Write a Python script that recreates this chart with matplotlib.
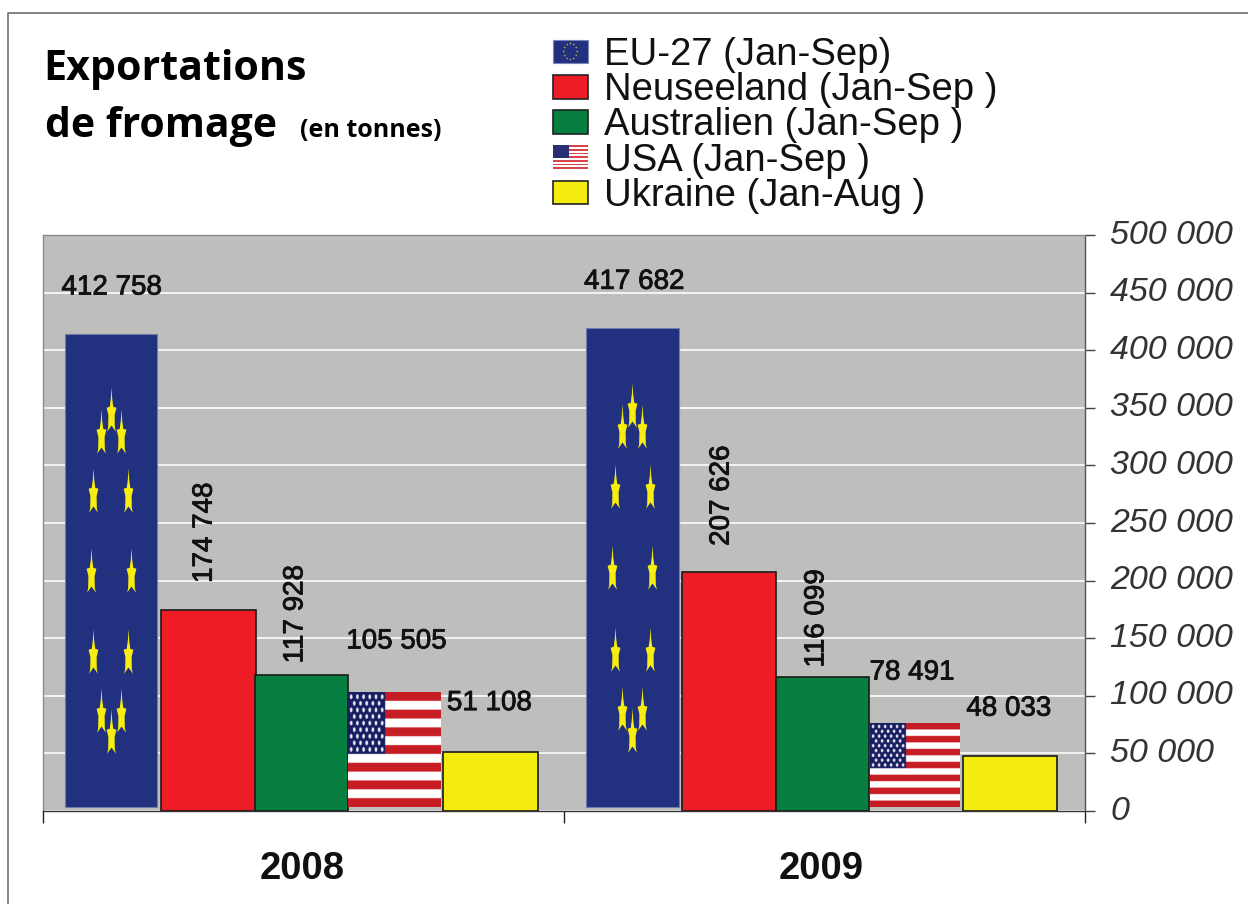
import numpy as np
import matplotlib
matplotlib.use("Agg")
import matplotlib.pyplot as plt
import matplotlib.patheffects as pe
from matplotlib.lines import Line2D
from matplotlib.patches import Rectangle, Circle
from matplotlib.path import Path
from matplotlib.legend_handler import HandlerBase

# ---- data ----
years = ["2008", "2009"]
series = ["EU-27 (Jan-Sep)", "Neuseeland (Jan-Sep )", "Australien (Jan-Sep )",
          "USA (Jan-Sep )", "Ukraine (Jan-Aug )"]
eu27 = [412758, 417682]
neuseeland = [174748, 207626]
australien = [117928, 116099]
usa = [105505, 78491]
ukraine = [51108, 48033]
values = [eu27, neuseeland, australien, usa, ukraine]
yticks = list(range(0, 500001, 50000))

# ---- style / layout ----
W, H = 1248, 907
DPI = 100
AX_L, AX_R, AX_T, AX_B = 43, 1085, 235, 811
BG = "#BEBEBC"
NAVY, RED, GREEN, YELLOW = "#21307F", "#EE1C25", "#067F40", "#F5EC0F"
colors = [NAVY, RED, GREEN, None, YELLOW]
offsets = [[-0.370, -0.182, -0.004, 0.173, 0.359], [-0.369, -0.184, -0.004, 0.172, 0.356]]
widths = [[0.177, 0.182, 0.177, 0.177, 0.184], [0.178, 0.180, 0.180, 0.171, 0.182]]
FLAG_INSET = 3500
EU_TOP_EXTRA = 1700
USA_TOP_TRIM = 2500
# label offset from the bar's top centre, pixels (dx, dy up)
label_off = [
    [(1, 48), (-4, 77), (-6, 61), (3, 48), (-1, 49)],
    [(2, 48), (-7, 76), (-6, 59), (-2, 48), (-1, 47)],
]
label_rot = [0, 90, 90, 0, 0]
year_pos = [0.497, 1.494]
SANS = ["Liberation Sans", "DejaVu Sans"]
BOLD = ["Open Sans", "DejaVu Sans"]


def us_flag():
    h, w = 390, 455
    img = np.ones((h, w, 3))
    red = np.array([0.78, 0.11, 0.14])
    for s in range(0, 13, 2):
        img[s * h // 13:(s + 1) * h // 13] = red
    ch, cw = 7 * h // 13, 2 * w // 5
    img[:ch, :cw] = [0.10, 0.12, 0.38]
    yy, xx = np.mgrid[0:h, 0:w]
    for row in range(9):
        cols = 6 if row % 2 == 0 else 5
        for c in range(cols):
            cx = (c + (0.5 if row % 2 == 0 else 1.0)) * cw / 6
            cy = (row + 0.7) * ch / 9.4
            mask = ((xx - cx) / 6.5) ** 2 + ((yy - cy) / 8) ** 2 < 1
            img[mask] = [0.93, 0.93, 0.97]
    return img


STAR = Path(np.array([[0, 1.0], [0.03, 0.5], [0.08, 0.12], [0.22, 0.08], [0.14, -0.25], [0.15, -0.8],
                      [0.2, -1.0], [0, -0.72], [-0.2, -1.0], [-0.15, -0.8], [-0.14, -0.25],
                      [-0.22, 0.08], [-0.08, 0.12], [-0.03, 0.5], [0, 1.0]]))
FLAG = us_flag()

fig = plt.figure(figsize=(W / DPI, H / DPI), dpi=DPI, facecolor="white")
ax = fig.add_axes([AX_L / W, 1 - AX_B / H, (AX_R - AX_L) / W, (AX_B - AX_T) / H])
ax.set_facecolor(BG)
ax.set_axisbelow(True)
ax.yaxis.grid(True, color="#F4F4F2", lw=1.4)
ax.xaxis.grid(False)

px_per_x = (AX_R - AX_L) / 2

for g, year in enumerate(years):
    for s, vals in enumerate(values):
        v = vals[g]
        x = g + 0.5 + offsets[g][s]
        wd = widths[g][s]
        if s == 0:
            top = v + EU_TOP_EXTRA
            ax.bar(x, top - FLAG_INSET, wd, bottom=FLAG_INSET, color=NAVY, ec="#6F7AA8", lw=0.8, zorder=3)
            for k in range(12):
                a = np.pi * k / 6
                sx = x + 20 / px_per_x * np.sin(a)
                sy = FLAG_INSET + (top - FLAG_INSET) * (0.5 + 0.34 * np.cos(a))
                ax.plot([sx], [sy], marker=STAR, ms=32, mfc="#F7EE10", mec="none", zorder=4)
        elif s == 3:
            ax.imshow(FLAG, extent=(x - wd / 2, x + wd / 2, FLAG_INSET, v - USA_TOP_TRIM), aspect="auto",
                      interpolation="bilinear", zorder=3)
        else:
            ax.bar(x, v, wd, color=colors[s], ec="#1A1A1A", lw=1.2, zorder=3)
        dx, dy = label_off[g][s]
        ax.annotate(f"{v:,}".replace(",", " "), (x, v), xytext=(dx * 72 / DPI, dy * 72 / DPI),
                    textcoords="offset points", ha="center", va="center", rotation=label_rot[s],
                    family=SANS, fontsize=20, color="#111111", zorder=5,
                    path_effects=[pe.withStroke(linewidth=0.6, foreground="#111111")])

ax.set_xlim(0, 2)
ax.set_ylim(0, 500000)

ax.yaxis.tick_right()
ax.set_yticks(yticks)
ax.set_yticklabels([f"{t:,}".replace(",", " ") for t in yticks], family=SANS, style="italic",
                   fontsize=24.5, color="#333333", ha="left", va="center")
ax.tick_params(axis="y", direction="out", length=7, width=1, color="#444444", pad=11.2)
ax.set_xticks([0, 1, 2])
ax.set_xticklabels([])
ax.set_xticks(year_pos, minor=True)
ax.set_xticklabels(years, minor=True, family=SANS, fontweight="bold", fontsize=27.5, color="#111111")
ax.tick_params(axis="x", which="major", direction="out", length=8.5, width=1, color="#222222")
ax.tick_params(axis="x", which="minor", length=0, pad=29)
for side, c in (("left", "#8A8A8A"), ("top", "#8A8A8A"), ("right", "#555555"), ("bottom", "#333333")):
    ax.spines[side].set_color(c)
    ax.spines[side].set_linewidth(1)


# ---- legend ----
class UsaHandler(HandlerBase):
    def create_artists(self, legend, orig, xd, yd, width, height, fontsize, trans):
        out = [Rectangle((-xd, -yd), width, height, fc="white", ec="none", transform=trans)]
        for i in range(0, 13, 2):
            out.append(Rectangle((-xd, -yd + height * (1 - (i + 1) / 13)), width, height / 13,
                                 fc="#D9444B", ec="none", transform=trans))
        out.append(Rectangle((-xd, -yd + height * 6 / 13), width * 0.45, height * 7 / 13,
                             fc="#2A2F73", ec="none", transform=trans))
        return out


class EuHandler(HandlerBase):
    def create_artists(self, legend, orig, xd, yd, width, height, fontsize, trans):
        out = [Rectangle((-xd, -yd), width, height, fc=NAVY, ec="#7C86B5", lw=0.8, transform=trans)]
        cx, cy = -xd + width / 2, -yd + height / 2
        for k in range(12):
            a = np.pi * k / 6
            out.append(Circle((cx + 0.28 * height * np.sin(a), cy + 0.34 * height * np.cos(a)),
                              0.6, fc="#B7A84A", ec="none", transform=trans))
        return out


handles = [Rectangle((0, 0), 1, 1, label=series[0]),
           Rectangle((0, 0), 1, 1, fc=RED, ec="#222222", lw=1.2, label=series[1]),
           Rectangle((0, 0), 1, 1, fc=GREEN, ec="#222222", lw=1.2, label=series[2]),
           Line2D([], [], label=series[3]),
           Rectangle((0, 0), 1, 1, fc=YELLOW, ec="#222222", lw=1.2, label=series[4])]
leg = fig.legend(handles=handles, handler_map={handles[0]: EuHandler(), handles[3]: UsaHandler()},
                 loc="upper left", bbox_to_anchor=(553 / W, 1 - 37 / H), frameon=False,
                 prop={"family": SANS, "size": 27.5}, labelspacing=-0.02, handlelength=0.916,
                 handleheight=0.58, handletextpad=0.42, borderpad=0, borderaxespad=0,
                 labelcolor="#111111")

# ---- titles and frame ----
fig.text(43 / W, 1 - 80 / H, "Exportations", family=BOLD, fontweight="bold", fontsize=29.6, color="black")
fig.text(45 / W, 1 - 137 / H, "de fromage", family=BOLD, fontweight="bold", fontsize=29.4, color="black")
fig.text(300 / W, 1 - 137 / H, "(en tonnes)", family=BOLD, fontweight="bold", fontsize=18, color="black")
fig.add_artist(Line2D([8 / W, 8 / W, 1], [1 - 903 / H, 1 - 13 / H, 1 - 13 / H], color="#6E6E6E", lw=1.2))

fig.savefig("out.png", dpi=DPI)
